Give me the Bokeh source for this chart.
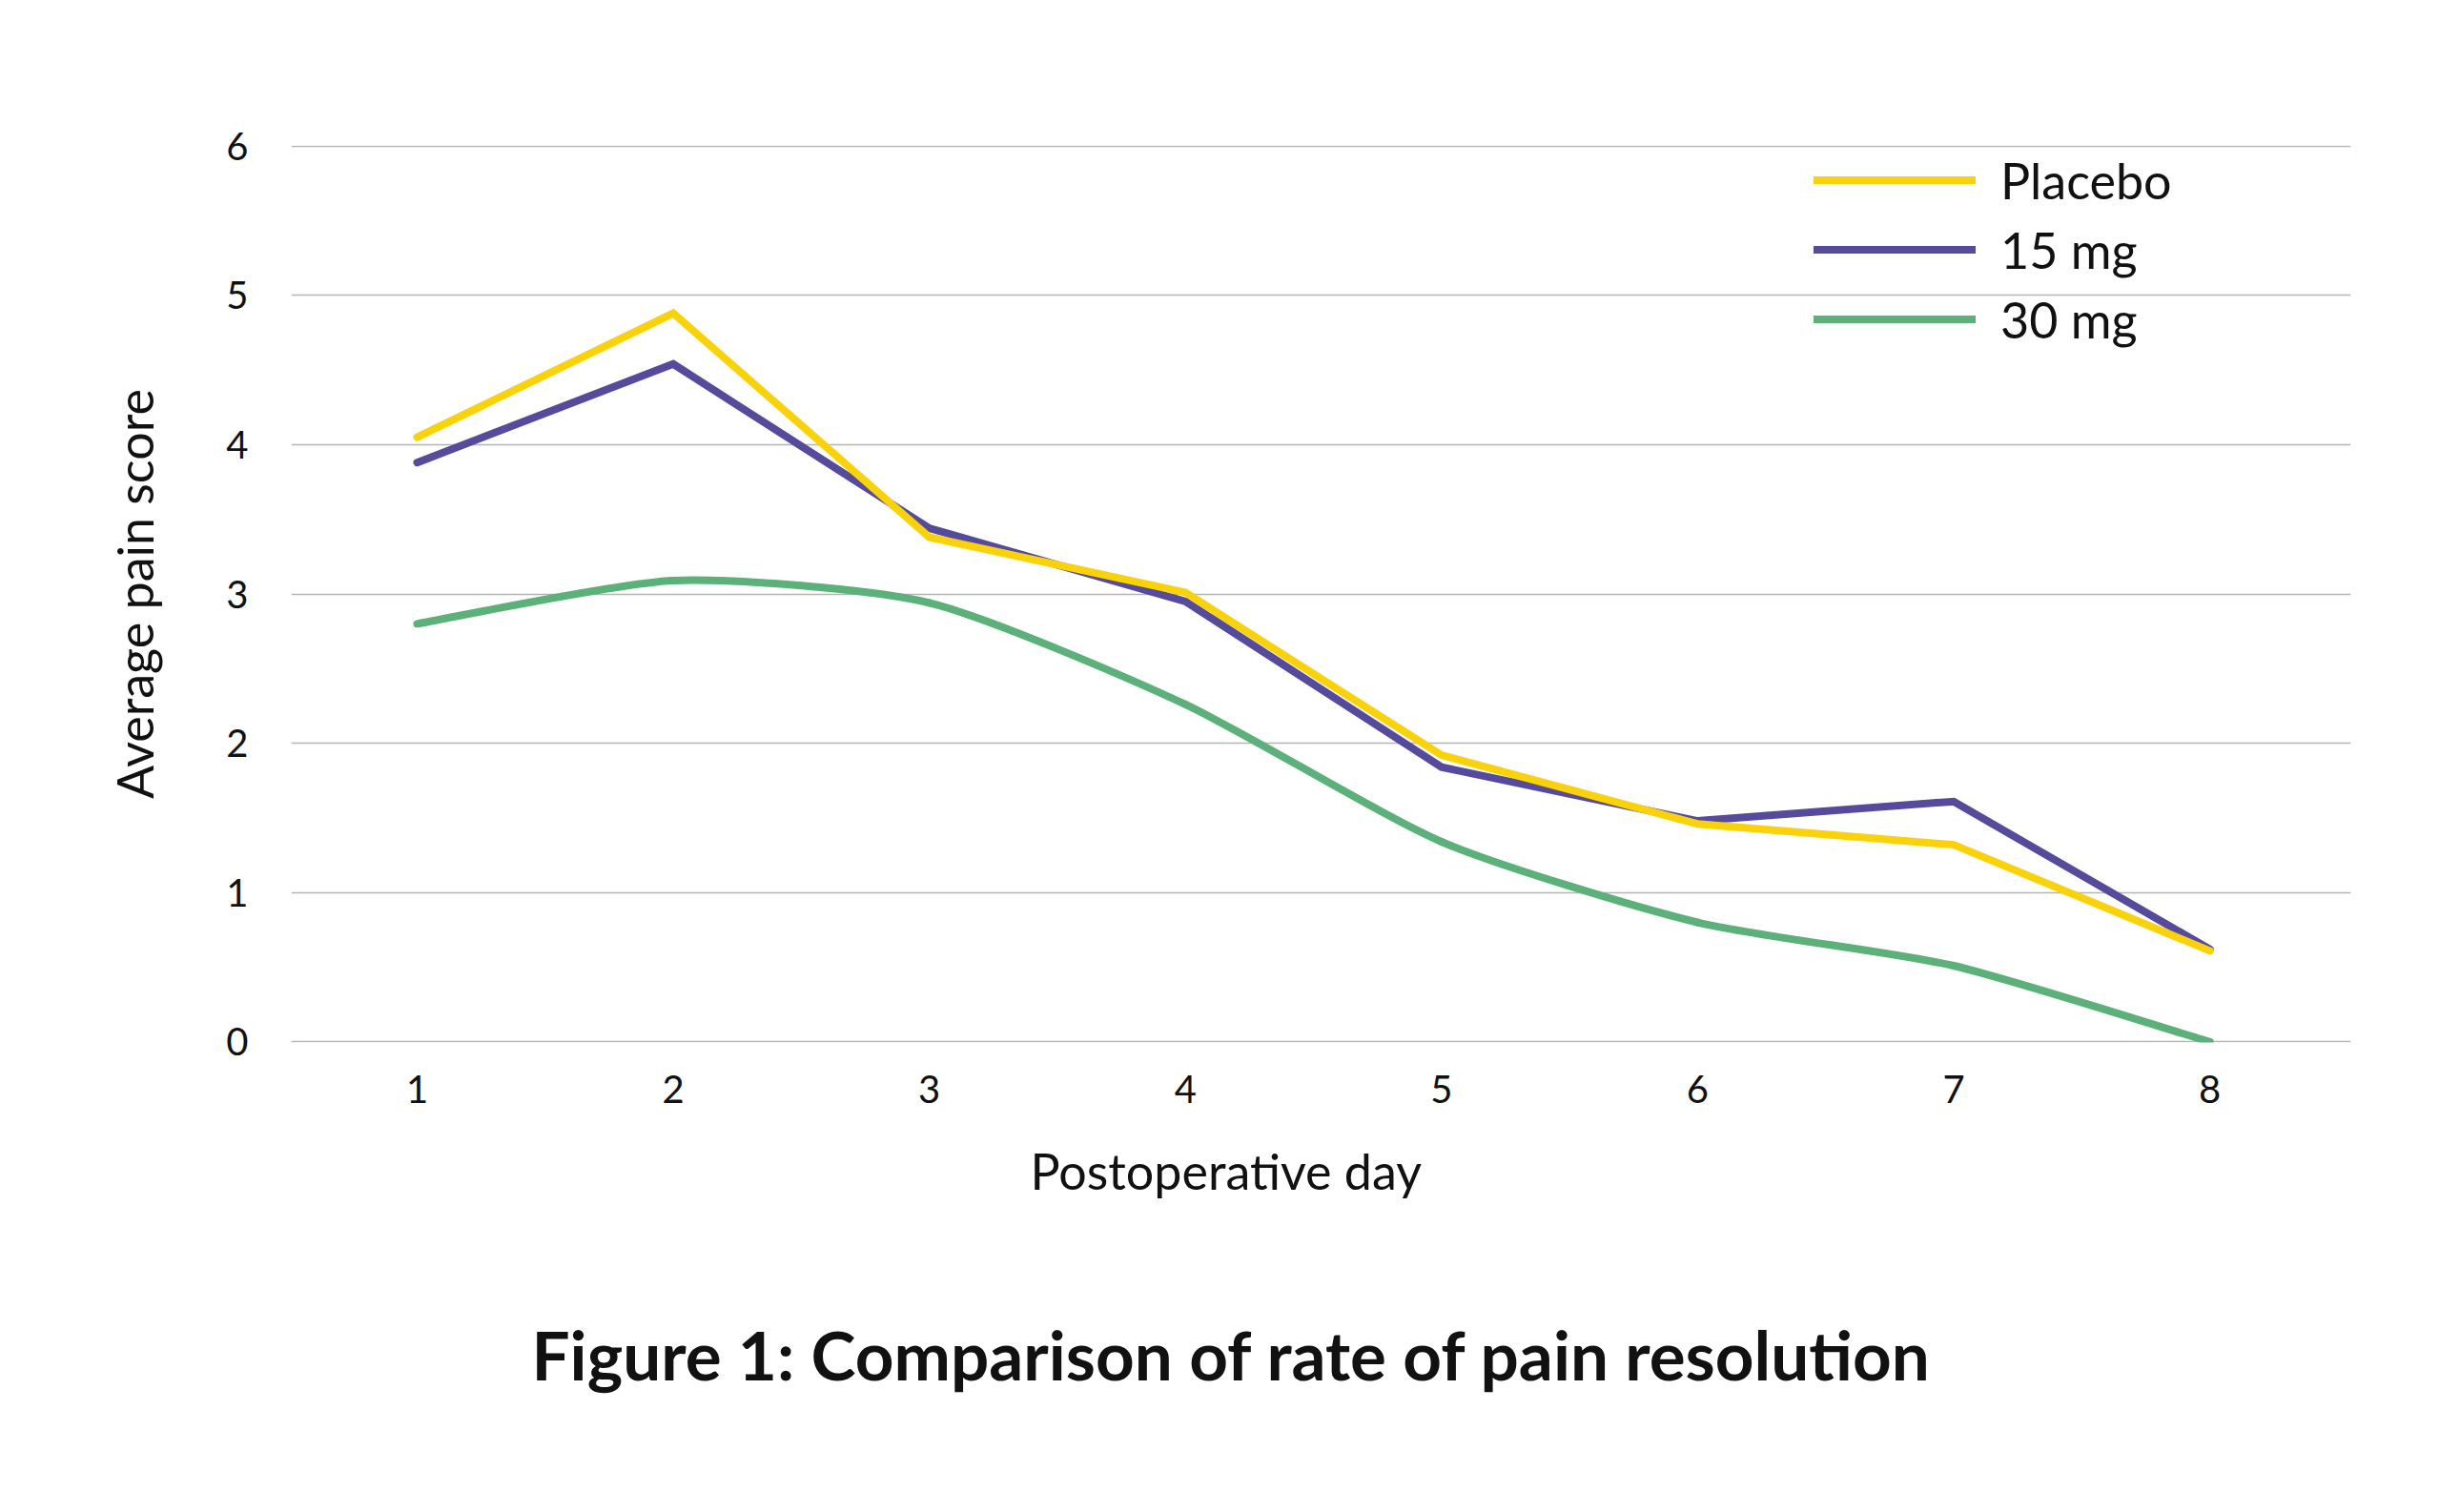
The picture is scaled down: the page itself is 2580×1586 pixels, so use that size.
from bokeh.plotting import figure
from bokeh.models import Range1d, FixedTicker, Legend, LegendItem, Title
from bokeh.embed import file_html
from bokeh.resources import INLINE

# ---- data ----
days = [1, 2, 3, 4, 5, 6, 7, 8]
placebo = [4.05, 4.88, 3.38, 3.01, 1.92, 1.46, 1.32, 0.61]
mg15 = [3.88, 4.54, 3.44, 2.95, 1.84, 1.48, 1.61, 0.62]
mg30 = [2.80, 3.09, 2.94, 2.26, 1.34, 0.80, 0.51, 0.00]
series_names = ["Placebo", "15 mg", "30 mg"]
y_ticks = [0, 1, 2, 3, 4, 5, 6]
title_text = "Figure 1: Comparison of rate of pain resolution"
x_label = "Postoperative day"
y_label = "Average pain score"

# ---- style ----
YELLOW = "#F9D20C"
PURPLE = "#554A9B"
GREEN = "#5BB179"
FONT = "Lato"
TXT = "#111111"
LW = 8

p = figure(width=2564, height=1570, output_backend="svg", toolbar_location=None,
           x_range=Range1d(0.5086, 8.5504), y_range=Range1d(-0.004, 6.004),
           min_border_left=305, min_border_right=99,
           min_border_top=152, min_border_bottom=477)
p.outline_line_color = None
p.background_fill_color = "white"
p.border_fill_color = "white"
p.xgrid.visible = False
p.ygrid.grid_line_color = "#B4B4B4"
p.ygrid.grid_line_width = 1.5

for ax in (p.xaxis[0], p.yaxis[0]):
    ax.axis_line_color = None
    ax.major_tick_line_color = None
    ax.minor_tick_line_color = None
    ax.major_label_text_font = FONT
    ax.major_label_text_font_size = "40px"
    ax.major_label_text_color = TXT

p.xaxis[0].ticker = FixedTicker(ticks=days)
p.xaxis[0].major_label_standoff = 28
p.yaxis[0].ticker = FixedTicker(ticks=y_ticks)
p.yaxis[0].major_label_standoff = 39
p.yaxis[0].axis_label = y_label
p.yaxis[0].axis_label_text_font = FONT
p.yaxis[0].axis_label_text_font_size = "52px"
p.yaxis[0].axis_label_text_font_style = "normal"
p.yaxis[0].axis_label_text_color = TXT
p.yaxis[0].axis_label_standoff = 62

r15 = p.line(days, mg15, line_color=PURPLE, line_width=LW, line_cap="round", line_join="miter")
rpl = p.line(days, placebo, line_color=YELLOW, line_width=LW, line_cap="round", line_join="miter")

# lightly smoothed 30 mg line (bezier segments through the data points)
K = 9.0
n = len(days)
x0, y0, x1, y1, cx0, cy0, cx1, cy1 = [], [], [], [], [], [], [], []
for i in range(n - 1):
    im1 = max(i - 1, 0)
    ip2 = min(i + 2, n - 1)
    x0.append(days[i]); y0.append(mg30[i])
    x1.append(days[i + 1]); y1.append(mg30[i + 1])
    cx0.append(days[i] + (days[i + 1] - days[im1]) / K)
    cy0.append(mg30[i] + (mg30[i + 1] - mg30[im1]) / K)
    cx1.append(days[i + 1] - (days[ip2] - days[i]) / K)
    cy1.append(mg30[i + 1] - (mg30[ip2] - mg30[i]) / K)
p.bezier(x0=x0, y0=y0, x1=x1, y1=y1, cx0=cx0, cy0=cy0, cx1=cx1, cy1=cy1,
         line_color=GREEN, line_width=LW, line_cap="round")
# legend handle for the 30 mg series (single point: draws no segment)
r30 = p.line(x=days[-1:], y=mg30[-1:], line_color=GREEN, line_width=LW, line_cap="round")

legend = Legend(items=[LegendItem(label=series_names[0], renderers=[rpl]),
                       LegendItem(label=series_names[1], renderers=[r15]),
                       LegendItem(label=series_names[2], renderers=[r30])],
                location=(1597, 722), orientation="vertical",
                glyph_width=170, glyph_height=73, label_height=73, spacing=0,
                label_standoff=26, padding=0, margin=0,
                border_line_color=None, background_fill_alpha=0,
                label_text_font=FONT, label_text_font_size="52px",
                label_text_color=TXT, label_text_baseline="middle")
p.add_layout(legend, "center")

p.add_layout(Title(text=x_label, align="left", offset=775, standoff=70,
                   text_font=FONT, text_font_size="52px", text_font_style="normal",
                   text_color=TXT), "below")
p.add_layout(Title(text=title_text, align="left", offset=252, standoff=164,
                   text_font=FONT, text_font_size="71px", text_font_style="bold",
                   text_color=TXT), "below")

open("out.html", "w").write(file_html(p, INLINE))
